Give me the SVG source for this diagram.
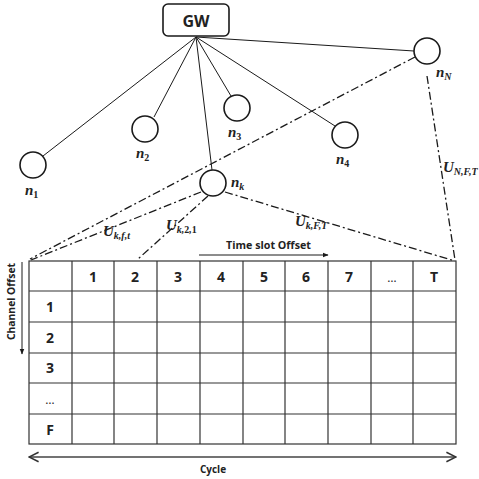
<svg xmlns="http://www.w3.org/2000/svg" width="479" height="479" viewBox="0 0 479 479">
  <defs>
    <style>
      .node { fill: #fff; stroke: #1a1a1a; stroke-width: 1.6; }
      .link { stroke: #1a1a1a; stroke-width: 1; fill: none; }
      .dd { stroke: #1a1a1a; stroke-width: 1.3; fill: none; stroke-dasharray: 8 3 2 3; }
      .grid { stroke: #333; stroke-width: 1.2; fill: none; }
      .lbl { font-family: "Liberation Serif", serif; font-style: italic; font-weight: bold; fill: #222; }
      .up { font-style: normal; }
      .sans { font-family: "Open Sans", "Liberation Sans", sans-serif; font-weight: bold; fill: #222; }
      .hd { font-size: 14px; text-anchor: middle; }
    </style>
    <marker id="tri" viewBox="0 0 10 10" refX="9" refY="5" markerWidth="6" markerHeight="6" orient="auto-start-reverse">
      <path d="M0,1 L10,5 L0,9 Z" fill="#1a1a1a"/>
    </marker>
    <marker id="chev" viewBox="0 0 10 10" refX="9" refY="5" markerWidth="8" markerHeight="8" orient="auto-start-reverse">
      <path d="M1,1 L9,5 L1,9" fill="none" stroke="#333" stroke-width="1.3"/>
    </marker>
  </defs>

  <!-- links from gateway -->
  <g id="connectors">
    <line class="link" x1="196" y1="37" x2="43" y2="156"/>
    <line class="link" x1="196" y1="37" x2="154" y2="117"/>
    <line class="link" x1="196" y1="37" x2="231" y2="96"/>
    <line class="link" x1="196" y1="37" x2="335" y2="126"/>
    <line class="link" x1="196" y1="37" x2="212" y2="170"/>
    <line class="link" x1="196" y1="37" x2="414" y2="51"/>
    <!-- uplink slots (dash-dot) -->
    <line class="dd" x1="415" y1="57" x2="30" y2="259"/>
    <line class="dd" x1="201" y1="192" x2="31" y2="260"/>
    <line class="dd" x1="208" y1="196" x2="138" y2="259"/>
    <line class="dd" x1="225" y1="192" x2="455" y2="261"/>
    <line class="dd" x1="427" y1="76" x2="455" y2="260"/>
  </g>

  <g id="GW">
    <rect x="163" y="4" width="66" height="32" rx="5" fill="#fff" stroke="#1a1a1a" stroke-width="1.6"/>
    <text class="sans" x="196" y="27" font-size="16" text-anchor="middle">GW</text>
  </g>
  <g id="n1">
    <circle class="node" cx="33" cy="165" r="13"/>
    <text class="lbl" x="25" y="195" font-size="15">n<tspan class="up" font-size="10" dy="3">1</tspan></text>
  </g>
  <g id="n2">
    <circle class="node" cx="145" cy="129" r="13"/>
    <text class="lbl" x="136" y="158" font-size="15">n<tspan class="up" font-size="10" dy="3">2</tspan></text>
  </g>
  <g id="n3">
    <circle class="node" cx="237" cy="108" r="13"/>
    <text class="lbl" x="228" y="137" font-size="15">n<tspan class="up" font-size="10" dy="3">3</tspan></text>
  </g>
  <g id="n4">
    <circle class="node" cx="345" cy="135" r="13"/>
    <text class="lbl" x="336" y="164" font-size="15">n<tspan class="up" font-size="10" dy="3">4</tspan></text>
  </g>
  <g id="nN">
    <circle class="node" cx="427" cy="51" r="13"/>
    <text class="lbl" x="436" y="77" font-size="15">n<tspan font-size="10" dy="3">N</tspan></text>
  </g>
  <g id="nk">
    <circle class="node" cx="213" cy="183" r="13"/>
    <text class="lbl" x="231" y="187" font-size="15">n<tspan font-size="10" dy="3">k</tspan></text>
  </g>

  <!-- slot labels -->
  <g id="slot-labels">
    <text class="lbl" x="103" y="236" font-size="15">U<tspan font-size="10" dy="3">k,f,t</tspan></text>
    <text class="lbl" x="166" y="230" font-size="15">U<tspan font-size="10" dy="3">k,<tspan class="up">2</tspan>,<tspan class="up">1</tspan></tspan></text>
    <text class="lbl" x="295" y="226" font-size="15">U<tspan font-size="10" dy="3">k,F,T</tspan></text>
    <text class="lbl" x="443" y="172" font-size="15">U<tspan font-size="10" dy="3">N,F,T</tspan></text>
  </g>

  <!-- slotframe grid -->
  <g id="slotframe">
    <rect class="grid" x="29" y="261" width="427" height="183"/>
    <g class="grid">
      <line x1="72" y1="261" x2="72" y2="444"/>
      <line x1="114" y1="261" x2="114" y2="444"/>
      <line x1="157" y1="261" x2="157" y2="444"/>
      <line x1="200" y1="261" x2="200" y2="444"/>
      <line x1="243" y1="261" x2="243" y2="444"/>
      <line x1="285" y1="261" x2="285" y2="444"/>
      <line x1="328" y1="261" x2="328" y2="444"/>
      <line x1="371" y1="261" x2="371" y2="444"/>
      <line x1="413" y1="261" x2="413" y2="444"/>
      <line x1="29" y1="291" x2="456" y2="291"/>
      <line x1="29" y1="322" x2="456" y2="322"/>
      <line x1="29" y1="353" x2="456" y2="353"/>
      <line x1="29" y1="383" x2="456" y2="383"/>
      <line x1="29" y1="414" x2="456" y2="414"/>
    </g>
    <g class="sans hd">
      <text x="93" y="282">1</text>
      <text x="135" y="282">2</text>
      <text x="178" y="282">3</text>
      <text x="221" y="282">4</text>
      <text x="264" y="282">5</text>
      <text x="306" y="282">6</text>
      <text x="349" y="282">7</text>
      <text x="392" y="282" font-weight="normal" font-size="12">…</text>
      <text x="434" y="282">T</text>
      <text x="50" y="312">1</text>
      <text x="50" y="343">2</text>
      <text x="50" y="373">3</text>
      <text x="50" y="404" font-weight="normal" font-size="12">…</text>
      <text x="50" y="435">F</text>
    </g>
  </g>

  <!-- axes -->
  <g id="axes">
    <text class="sans" x="226" y="249" font-size="11" textLength="85" lengthAdjust="spacingAndGlyphs">Time slot Offset</text>
    <line x1="199" y1="255" x2="328" y2="255" stroke="#1a1a1a" stroke-width="1" marker-end="url(#tri)"/>
    <text class="sans" font-size="11" textLength="77" lengthAdjust="spacingAndGlyphs" transform="translate(15,340) rotate(-90)">Channel Offset</text>
    <line x1="22" y1="262" x2="22" y2="354" stroke="#1a1a1a" stroke-width="1" marker-end="url(#tri)"/>
    <line x1="29" y1="457" x2="456" y2="457" stroke="#444" stroke-width="1.5" marker-start="url(#chev)" marker-end="url(#chev)"/>
    <text class="sans" x="213" y="473" font-size="10" text-anchor="middle">Cycle</text>
  </g>
</svg>
